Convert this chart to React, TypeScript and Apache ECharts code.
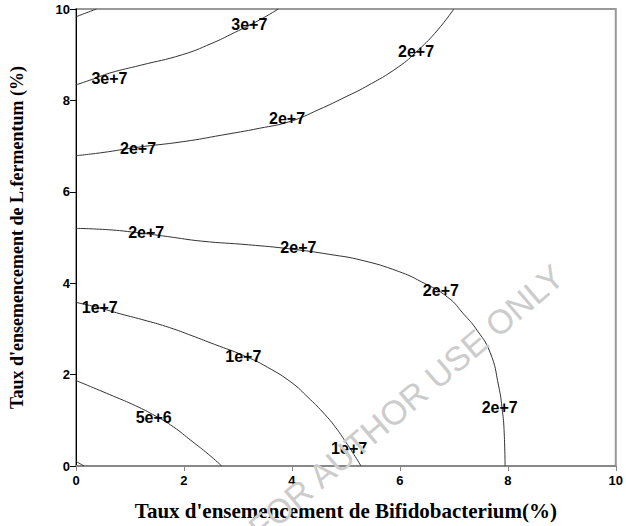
import React, { useEffect, useRef } from "react";
import * as echarts from "echarts";

// Contour lines of the response surface (x: Bifidobacterium %, y: L.fermentum %)
const curveTopCorner: number[][] = [[0, 9.83], [0.2, 9.92], [0.38, 10]];
const curve3e7: number[][] = [
  [0, 8.34], [0.3, 8.46], [0.63, 8.6], [1.2, 8.77], [1.97, 9.0], [2.5, 9.24],
  [2.93, 9.48], [3.4, 9.76], [3.75, 10],
];
const curve2e7Upper: number[][] = [
  [0, 6.79], [0.5, 6.86], [1.11, 6.97], [2.0, 7.1], [2.7, 7.24], [3.4, 7.39],
  [3.97, 7.54], [4.5, 7.8], [5.0, 8.08], [5.37, 8.3], [5.97, 8.73], [6.34, 9.1],
  [6.7, 9.54], [7.0, 10],
];
const curve2e7Lower: number[][] = [
  [0, 5.2], [0.6, 5.17], [1.11, 5.11], [1.7, 5.02], [2.33, 4.92], [3.2, 4.84],
  [3.97, 4.75], [4.7, 4.63], [5.3, 4.5], [5.97, 4.26], [6.4, 4.03], [6.89, 3.69],
  [7.2, 3.3], [7.4, 3.02], [7.67, 2.49], [7.83, 1.75], [7.9, 1.2], [7.93, 0.8],
  [7.95, 0],
];
const curve1e7: number[][] = [
  [0, 3.58], [0.4, 3.47], [0.82, 3.33], [1.3, 3.18], [1.73, 3.03], [2.15, 2.85],
  [2.57, 2.66], [3.1, 2.42], [3.55, 2.16], [4.0, 1.82], [4.3, 1.5], [4.57, 1.18],
  [4.8, 0.86], [5.0, 0.52], [5.15, 0.25], [5.28, 0],
];
const curve5e6: number[][] = [
  [0, 1.87], [0.69, 1.53], [1.1, 1.32], [1.48, 1.09], [1.8, 0.86], [2.15, 0.54],
  [2.45, 0.26], [2.7, 0],
];
const curveBottomCorner: number[][] = [[0, 0.1], [0.15, 0]];

const contourCurves = [
  curveTopCorner, curve3e7, curve2e7Upper, curve2e7Lower, curve1e7, curve5e6, curveBottomCorner,
];

// Inline contour labels: level value and where each one sits
const labelLevels = [3e7, 3e7, 2e7, 2e7, 2e7, 2e7, 2e7, 2e7, 2e7, 1e7, 1e7, 1e7, 5e6];
const labelXs = [0.62, 3.21, 1.15, 3.91, 6.3, 1.3, 4.12, 6.76, 7.85, 0.44, 3.1, 5.06, 1.44];
const labelYs = [8.49, 9.65, 6.94, 7.6, 9.08, 5.1, 4.78, 3.84, 1.29, 3.47, 2.4, 0.39, 1.07];

const axisTicks = [0, 2, 4, 6, 8, 10];

const xTitle = "Taux d'ensemencement de Bifidobacterium(%)";
const yTitle = "Taux d'ensemencement de L.fermentum (%)";
const watermark = "FOR AUTHOR USE ONLY";

function levelText(v: number): string {
  return v.toExponential(0);
}

export default function App() {
  const ref = useRef<HTMLDivElement>(null);

  useEffect(() => {
    document.body.style.margin = "0";
    if (!ref.current) return;
    const chart = echarts.init(ref.current, null, { renderer: "svg" });

    const lineSeries = contourCurves.map((c) => ({
      type: "line",
      data: c,
      smooth: 0.5,
      showSymbol: false,
      symbol: "none",
      lineStyle: { color: "#333", width: 1 },
      z: 2,
    }));

    const labelData = labelXs.map((x, i) => ({
      value: [x, labelYs[i]],
      name: levelText(labelLevels[i]),
    }));

    chart.setOption({
      animation: false,
      backgroundColor: "#fff",
      grid: {
        left: 72,
        right: 5,
        top: 9,
        bottom: 59,
        show: true,
        borderColor: "#999",
        borderWidth: 2,
      },
      xAxis: {
        type: "value",
        min: 0,
        max: 10,
        interval: 2,
        name: xTitle,
        nameLocation: "middle",
        nameGap: 34,
        nameTextStyle: {
          fontFamily: "'Liberation Serif', 'Times New Roman', serif",
          fontWeight: "bold",
          fontSize: 21,
          color: "#000",
        },
        axisLine: { show: true, onZero: false, lineStyle: { color: "#888", width: 2 } },
        axisTick: { show: true, inside: false, length: 5, lineStyle: { color: "#888" } },
        axisLabel: {
          margin: 8,
          fontFamily: "'Liberation Sans', Arial, sans-serif",
          fontWeight: "bold",
          fontSize: 13,
          color: "#000",
          formatter: (v: number) => (axisTicks.includes(v) ? String(v) : ""),
        },
        splitLine: { show: false },
      },
      yAxis: {
        type: "value",
        min: 0,
        max: 10,
        interval: 2,
        name: yTitle,
        nameLocation: "middle",
        nameGap: 50,
        nameRotate: 90,
        nameTextStyle: {
          fontFamily: "'Liberation Serif', 'Times New Roman', serif",
          fontWeight: "bold",
          fontSize: 18,
          color: "#000",
        },
        axisLine: { show: true, onZero: false, lineStyle: { color: "#000", width: 1 } },
        axisTick: { show: true, inside: false, length: 6, lineStyle: { color: "#000" } },
        axisLabel: {
          margin: 6,
          fontFamily: "'Liberation Sans', Arial, sans-serif",
          fontWeight: "bold",
          fontSize: 13,
          color: "#000",
        },
        splitLine: { show: false },
      },
      series: [
        ...lineSeries,
        {
          type: "scatter",
          data: labelData,
          symbolSize: 2,
          itemStyle: { color: "rgba(0,0,0,0)" },
          label: {
            show: true,
            position: "inside",
            formatter: (p: any) => p.name,
            fontFamily: "'Liberation Sans', Arial, sans-serif",
            fontWeight: "bold",
            fontSize: 16,
            color: "#000",
            opacity: 1,
          },
          emphasis: { disabled: true },
          z: 5,
        },
      ],
      graphic: [
        {
          type: "text",
          x: 406,
          y: 402,
          rotation: 0.707,
          z: 100,
          style: {
            text: watermark,
            fill: "#cccccc",
            font: "34px 'Liberation Sans', Arial, sans-serif",
            textAlign: "center",
            textVerticalAlign: "middle",
          },
        },
      ],
    });

    return () => chart.dispose();
  }, []);

  return <div ref={ref} style={{ width: 626, height: 526 }} />;
}
